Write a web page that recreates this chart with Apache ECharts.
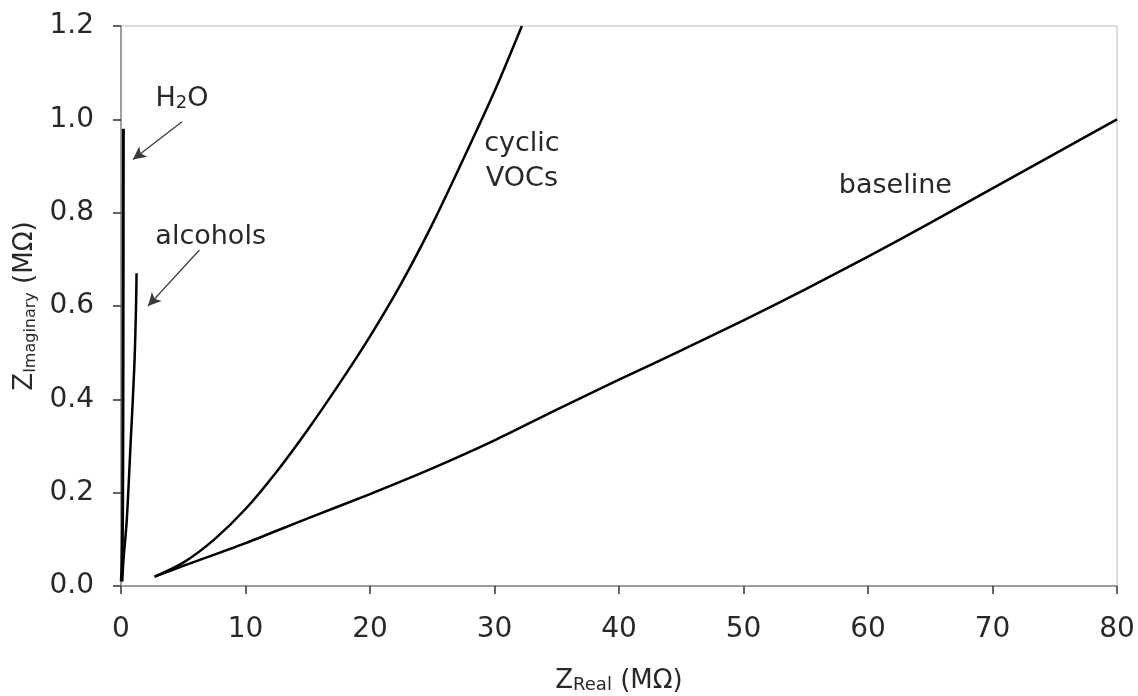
<!DOCTYPE html>
<html>
<head>
<meta charset="utf-8">
<script src="https://cdn.jsdelivr.net/npm/echarts@6/dist/echarts.min.js"></script>
<style>
    html, body {margin:0;padding:0;background:#fff;}
    #chart {width:1138px;height:696px;}
</style>
</head>
<body>
<div id="chart"></div>
<script>
    // Nyquist curves, both axes in MOhm
    var waterX = [0.02, 0.08, 0.13, 0.16, 0.18, 0.19];
    var waterY = [0.01, 0.05, 0.15, 0.40, 0.75, 0.98];

    var alcoholX = [0.10, 0.20, 0.46, 0.78, 1.07, 1.20, 1.25];
    var alcoholY = [0.01, 0.056, 0.14, 0.31, 0.47, 0.59, 0.67];

    var vocX = [2.7, 5, 7.5, 10, 12.5, 15, 17.5, 20, 22.5, 25, 27.5, 30, 32.2];
    var vocY = [0.02, 0.05, 0.1, 0.165, 0.245, 0.335, 0.432, 0.535, 0.648, 0.775, 0.915, 1.06, 1.2];

    var baseX = [2.7, 5, 10, 15, 20, 25, 30, 35, 40, 45, 50, 55, 60, 65, 70, 75, 80];
    var baseY = [0.02, 0.043, 0.092, 0.145, 0.197, 0.252, 0.312, 0.378, 0.442, 0.505, 0.569, 0.636, 0.706, 0.778, 0.852, 0.926, 1.0];

    // axis ranges
    var xMin = 0, xMax = 80, xStep = 10;
    var yMin = 0, yMax = 1.2, yStep = 0.2;

    // annotations (text, where it sits, arrow from -> to)
    var noteText = ['{t|H}{s|2}{t|O}', 'alcohols', 'cyclic\nVOCs', 'baseline'];
    var noteX = [4.9, 7.2, 32.2, 62.2];
    var noteY = [1.047, 0.748, 0.91, 0.858];
    var arrowFrom = [[4.9, 0.995], [6.3, 0.72]];
    var arrowTo = [[0.96, 0.914], [2.17, 0.60]];

    function zip(xs, ys) {
        return xs.map(function (x, i) { return [x, ys[i]]; });
    }

    var font = 'DejaVu Sans, sans-serif';
    var ink = '#282828';

    function curve(name, xs, ys, w) {
        return {
            name: name,
            type: 'line',
            data: zip(xs, ys),
            showSymbol: false,
            symbol: 'none',
            smooth: 0.3,
            lineStyle: {color: '#000', width: w},
            itemStyle: {color: '#000'}
        };
    }

    var chart = echarts.init(document.getElementById('chart'));
    var option = {
        animation: false,
        backgroundColor: '#fff',
        textStyle: {fontFamily: font},
        grid: {
            left: 121, right: 21, top: 26, bottom: 110,
            show: true, borderColor: '#bbb', borderWidth: 1,
            outerBoundsMode: 'none'
        },
        xAxis: {
            type: 'value',
            min: xMin, max: xMax, interval: xStep,
            axisLine: {show: true, lineStyle: {color: '#888', width: 1.5}},
            axisTick: {show: true, length: 8, lineStyle: {color: '#333', width: 1.5}},
            splitLine: {show: false},
            axisLabel: {margin: 30, fontSize: 28, color: ink, fontFamily: font},
            name: '{z|Z}{s|Real}{z| (MΩ)}',
            nameLocation: 'middle',
            nameGap: 78,
            nameTextStyle: {
                color: ink,
                rich: {
                    z: {fontSize: 26, fontFamily: font, color: ink, lineHeight: 30, verticalAlign: 'bottom'},
                    s: {fontSize: 18, fontFamily: font, color: ink, lineHeight: 16, verticalAlign: 'bottom'}
                }
            }
        },
        yAxis: {
            type: 'value',
            min: yMin, max: yMax, interval: yStep,
            axisLine: {show: true, lineStyle: {color: '#888', width: 1.5}},
            axisTick: {show: true, length: 8, lineStyle: {color: '#333', width: 1.5}},
            splitLine: {show: false},
            axisLabel: {
                margin: 27, fontSize: 28, color: ink, fontFamily: font,
                formatter: function (v) { return v.toFixed(1); }
            },
            name: '{z|Z}{s|Imaginary}{z| (MΩ)}',
            nameLocation: 'middle',
            nameRotate: 90,
            nameGap: 80,
            nameTextStyle: {
                color: ink,
                rich: {
                    z: {fontSize: 26, fontFamily: font, color: ink, lineHeight: 30, verticalAlign: 'bottom'},
                    s: {fontSize: 16, fontFamily: font, color: ink, lineHeight: 15, verticalAlign: 'bottom'}
                }
            }
        },
        series: [
            curve('H2O', waterX, waterY, 3),
            curve('alcohols', alcoholX, alcoholY, 2.5),
            curve('cyclic VOCs', vocX, vocY, 2.5),
            curve('baseline', baseX, baseY, 2.5),
            {
                name: 'notes',
                type: 'scatter',
                symbolSize: 0,
                silent: true,
                itemStyle: {opacity: 1, color: ink},
                data: noteText.map(function (t, i) {
                    return {name: t, value: [noteX[i], noteY[i]]};
                }),
                label: {
                    show: true,
                    position: 'inside',
                    formatter: '{b}',
                    fontSize: 27,
                    lineHeight: 35,
                    color: ink,
                    opacity: 1,
                    fontFamily: font,
                    rich: {
                        t: {fontSize: 27, fontFamily: font, color: ink, lineHeight: 30, verticalAlign: 'bottom'},
                        s: {fontSize: 18, fontFamily: font, color: ink, lineHeight: 16, verticalAlign: 'bottom'}
                    }
                },
                markLine: {
                    silent: true,
                    symbol: ['none', 'arrow'],
                    symbolSize: [10, 13],
                    label: {show: false},
                    lineStyle: {color: '#3a3a3a', width: 1.2, type: 'solid', opacity: 1},
                    data: arrowFrom.map(function (p, i) {
                        return [{coord: p}, {coord: arrowTo[i]}];
                    })
                }
            }
        ]
    };
    chart.setOption(option);
</script>
</body>
</html>
